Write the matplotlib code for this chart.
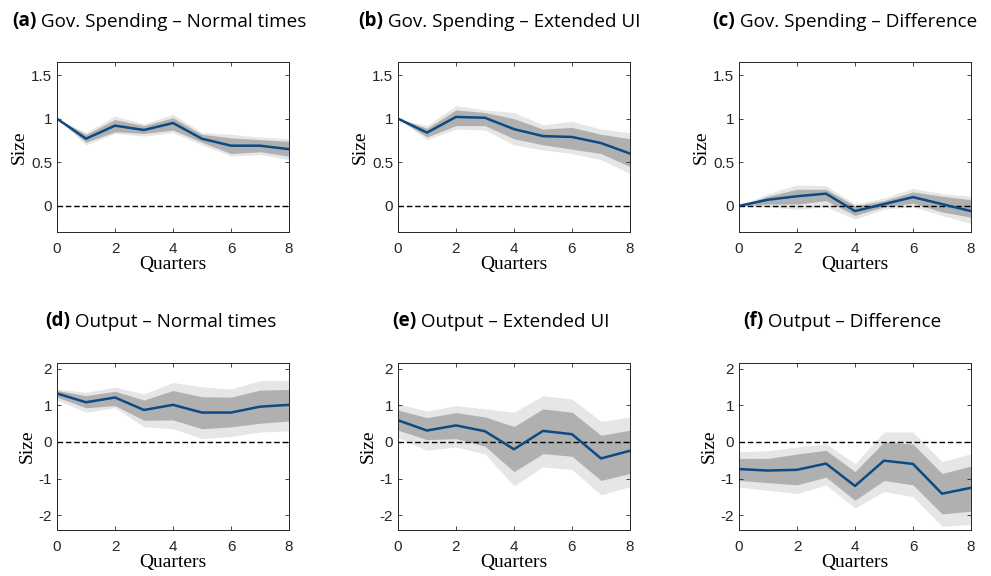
import numpy as np
import matplotlib
matplotlib.use("Agg")
import matplotlib.pyplot as plt

plt.rcParams["axes.unicode_minus"] = False

# horizon (quarters)
quarters = [0, 1, 2, 3, 4, 5, 6, 7, 8]

# (a) Gov. spending - normal times
gov_normal = [1.00, 0.77, 0.92, 0.87, 0.95, 0.77, 0.69, 0.69, 0.65]
gov_normal_lo68 = [1.00, 0.73, 0.85, 0.83, 0.87, 0.73, 0.60, 0.62, 0.57]
gov_normal_hi68 = [1.00, 0.82, 0.99, 0.92, 1.01, 0.82, 0.78, 0.76, 0.74]
gov_normal_lo90 = [1.00, 0.70, 0.83, 0.80, 0.84, 0.70, 0.57, 0.59, 0.53]
gov_normal_hi90 = [1.00, 0.84, 1.03, 0.94, 1.05, 0.84, 0.82, 0.79, 0.77]

# (b) Gov. spending - extended UI
gov_ext = [1.00, 0.84, 1.02, 1.01, 0.88, 0.80, 0.79, 0.72, 0.60]
gov_ext_lo68 = [1.00, 0.79, 0.92, 0.92, 0.77, 0.70, 0.65, 0.60, 0.45]
gov_ext_hi68 = [1.00, 0.89, 1.10, 1.07, 1.00, 0.88, 0.90, 0.82, 0.77]
gov_ext_lo90 = [1.00, 0.76, 0.88, 0.87, 0.70, 0.64, 0.60, 0.53, 0.37]
gov_ext_hi90 = [1.00, 0.92, 1.15, 1.10, 1.07, 0.93, 0.97, 0.88, 0.84]

# (c) Gov. spending - difference
gov_diff = [0.00, 0.07, 0.11, 0.14, -0.06, 0.02, 0.10, 0.02, -0.06]
gov_diff_lo68 = [0.00, 0.02, 0.02, 0.06, -0.11, -0.01, 0.03, -0.07, -0.13]
gov_diff_hi68 = [0.00, 0.11, 0.19, 0.19, 0.00, 0.06, 0.16, 0.11, 0.07]
gov_diff_lo90 = [0.00, -0.01, -0.04, -0.01, -0.15, -0.04, -0.01, -0.11, -0.20]
gov_diff_hi90 = [0.00, 0.14, 0.24, 0.23, 0.02, 0.09, 0.20, 0.14, 0.11]

# (d) Output - normal times
out_normal = [1.32, 1.08, 1.21, 0.87, 1.01, 0.80, 0.80, 0.96, 1.01]
out_normal_lo68 = [1.22, 0.93, 0.99, 0.59, 0.60, 0.36, 0.41, 0.51, 0.57]
out_normal_hi68 = [1.40, 1.26, 1.38, 1.14, 1.40, 1.23, 1.22, 1.41, 1.43]
out_normal_lo90 = [1.14, 0.81, 0.93, 0.41, 0.36, 0.09, 0.15, 0.27, 0.30]
out_normal_hi90 = [1.44, 1.35, 1.49, 1.31, 1.62, 1.50, 1.44, 1.67, 1.68]

# (e) Output - extended UI
out_ext = [0.59, 0.31, 0.45, 0.29, -0.20, 0.30, 0.21, -0.45, -0.24]
out_ext_lo68 = [0.32, 0.06, 0.09, -0.12, -0.81, -0.32, -0.39, -1.05, -0.86]
out_ext_hi68 = [0.87, 0.66, 0.80, 0.68, 0.42, 0.90, 0.81, 0.18, 0.32]
out_ext_lo90 = [0.12, -0.23, -0.14, -0.33, -1.20, -0.68, -0.75, -1.44, -1.22]
out_ext_hi90 = [1.04, 0.84, 0.99, 0.90, 0.81, 1.26, 1.17, 0.56, 0.68]

# (f) Output - difference
out_diff = [-0.74, -0.78, -0.76, -0.59, -1.20, -0.51, -0.60, -1.41, -1.25]
out_diff_lo68 = [-1.05, -1.11, -1.17, -0.96, -1.59, -1.05, -1.17, -1.96, -1.89]
out_diff_hi68 = [-0.45, -0.45, -0.33, -0.23, -0.81, 0.00, -0.06, -0.86, -0.66]
out_diff_lo90 = [-1.23, -1.32, -1.41, -1.17, -1.80, -1.35, -1.49, -2.30, -2.25]
out_diff_hi90 = [-0.27, -0.24, -0.14, -0.05, -0.59, 0.27, 0.27, -0.54, -0.32]

panels = [
    ("(a)", "Gov. Spending \u2013 Normal times", gov_normal, gov_normal_lo68, gov_normal_hi68, gov_normal_lo90, gov_normal_hi90),
    ("(b)", "Gov. Spending \u2013 Extended UI", gov_ext, gov_ext_lo68, gov_ext_hi68, gov_ext_lo90, gov_ext_hi90),
    ("(c)", "Gov. Spending \u2013 Difference", gov_diff, gov_diff_lo68, gov_diff_hi68, gov_diff_lo90, gov_diff_hi90),
    ("(d)", "Output \u2013 Normal times", out_normal, out_normal_lo68, out_normal_hi68, out_normal_lo90, out_normal_hi90),
    ("(e)", "Output \u2013 Extended UI", out_ext, out_ext_lo68, out_ext_hi68, out_ext_lo90, out_ext_hi90),
    ("(f)", "Output \u2013 Difference", out_diff, out_diff_lo68, out_diff_hi68, out_diff_lo90, out_diff_hi90),
]

W, H = 991, 576
fig = plt.figure(figsize=(W / 100, H / 100), dpi=100)

# axes boxes in pixels: left, top, right, bottom
col_left = [57, 398, 739]
col_w = 232
row_box = [(62, 232), (363, 530)]
title_x = [[12, 358, 712], [45, 392, 743]]
title_y = [26, 326]

line_col = "#0b4a85"
dark = "#b0b0b0"
light = "#e6e6e6"

for i, (tag, name, mid, lo68, hi68, lo90, hi90) in enumerate(panels):
    r, c = divmod(i, 3)
    top, bot = row_box[r]
    ax = fig.add_axes([col_left[c] / W, 1 - bot / H, col_w / W, (bot - top) / H])
    ax.fill_between(quarters, lo90, hi90, color=light, lw=0)
    ax.fill_between(quarters, lo68, hi68, color=dark, lw=0)
    ax.axhline(0, color="black", ls="--", lw=1, dashes=(4, 2))
    ax.plot(quarters, mid, color=line_col, lw=1.8)
    ax.set_xlim(0, 8)
    ax.set_xticks([0, 2, 4, 6, 8])
    if r == 0:
        ax.set_ylim(-0.3, 1.65)
        ax.set_yticks([0, 0.5, 1, 1.5])
        ax.set_yticklabels(["0", "0.5", "1", "1.5"])
    else:
        ax.set_ylim(-2.4, 2.15)
        ax.set_yticks([-2, -1, 0, 1, 2])
    ax.tick_params(direction="in", length=3, width=0.6, labelsize=11,
                   top=True, right=True, colors="#262626")
    ax.tick_params(axis="x", pad=7.5)
    ax.tick_params(axis="y", pad=3.5)
    for lab in ax.get_xticklabels() + ax.get_yticklabels():
        lab.set_fontfamily("Liberation Sans")
    for s in ax.spines.values():
        s.set_linewidth(0.7)
        s.set_color("#262626")
    ax.set_xlabel("Quarters", family="Liberation Serif", fontsize=14, labelpad=0)
    ax.set_ylabel("Size", family="Liberation Serif", fontsize=14, labelpad=2)

    t1 = fig.text(title_x[r][c] / W, 1 - title_y[r] / H, tag, family="Open Sans",
                  weight="bold", fontsize=13.6, ha="left", va="baseline")
    ax.annotate(" " + name, xy=(1, 0), xycoords=t1, family="Open Sans",
                fontsize=13.6, ha="left", va="bottom", annotation_clip=False)

fig.savefig("out.png", dpi=100)
